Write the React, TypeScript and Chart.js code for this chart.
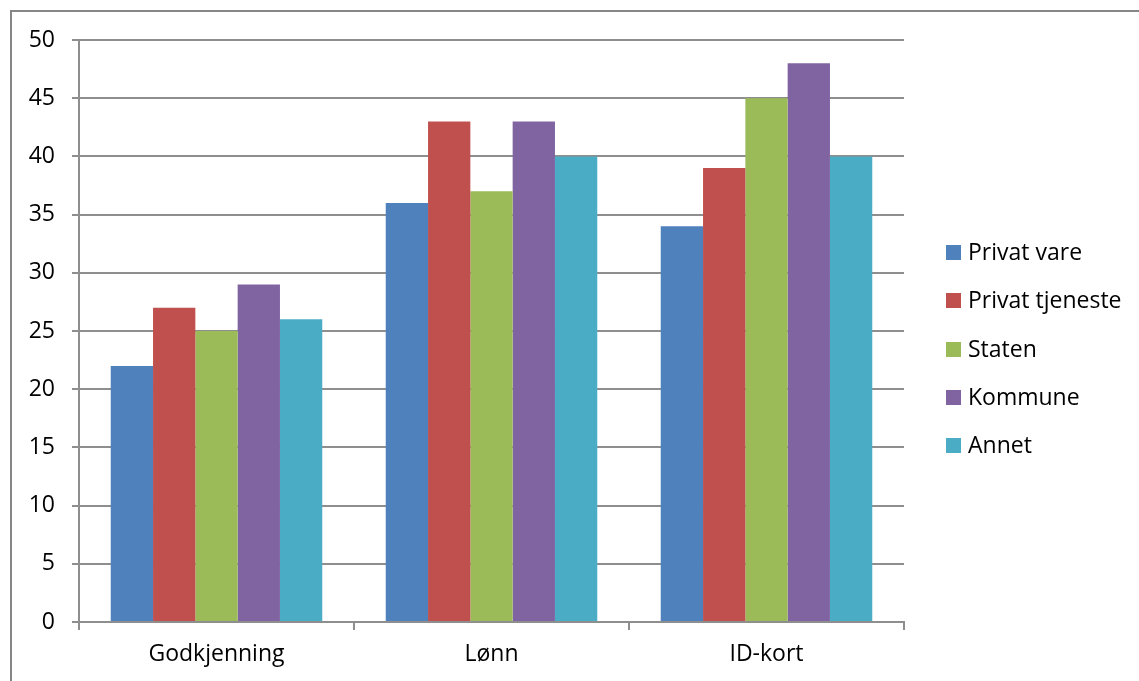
import React, { useEffect, useRef } from "react";
import { Chart, registerables } from "chart.js";

Chart.register(...registerables);

// Categories on the x axis
const categories = ["Godkjenning", "Lønn", "ID-kort"];

// One series per sector
const seriesNames = ["Privat vare", "Privat tjeneste", "Staten", "Kommune", "Annet"];
const privatVare = [22, 36, 34];
const privatTjeneste = [27, 43, 39];
const staten = [25, 37, 45];
const kommune = [29, 43, 48];
const annet = [26, 40, 40];

const seriesColors = ["#4F81BD", "#C0504D", "#9BBB59", "#8064A2", "#4BACC6"];

// Value axis
const yMin = 0;
const yMax = 50;
const yStep = 5;

const FONT_FAMILY = "'Open Sans', 'DejaVu Sans', sans-serif";
const FONT_SIZE = 23;
const AXIS_GRAY = "#8e8e8e";

const WIDTH = 1139;
const HEIGHT = 681;

// Outer frame of the chart
const framePlugin = {
  id: "frame",
  beforeDraw(chart: any) {
    const { ctx } = chart;
    ctx.save();
    ctx.fillStyle = "#ffffff";
    ctx.fillRect(0, 0, chart.width, chart.height);
    ctx.strokeStyle = "#868686";
    ctx.lineWidth = 2;
    ctx.strokeRect(11, 11, chart.width + 20, chart.height + 20);
    ctx.restore();
  },
};

// Vertical legend to the right of the plot
const sideLegendPlugin = {
  id: "sideLegend",
  afterDraw(chart: any) {
    const { ctx } = chart;
    const boxX = 946;
    const box = 15;
    const textX = 968;
    const firstRow = 252.5;
    const rowGap = 48.3;
    ctx.save();
    ctx.font = `${FONT_SIZE}px ${FONT_FAMILY}`;
    ctx.textAlign = "left";
    ctx.textBaseline = "alphabetic";
    chart.data.datasets.forEach((ds: any, i: number) => {
      const cy = firstRow + i * rowGap;
      ctx.fillStyle = ds.backgroundColor;
      ctx.fillRect(boxX, Math.round(cy - box / 2), box, box);
      ctx.fillStyle = "#000000";
      ctx.fillText(ds.label, textX, cy + 7.5);
    });
    ctx.restore();
  },
};

export default function App() {
  const canvasRef = useRef<HTMLCanvasElement | null>(null);

  useEffect(() => {
    if (!canvasRef.current) return;
    const values = [privatVare, privatTjeneste, staten, kommune, annet];
    const chart = new Chart(canvasRef.current, {
      type: "bar",
      data: {
        labels: categories,
        datasets: seriesNames.map((name, i) => ({
          label: name,
          data: values[i],
          backgroundColor: seriesColors[i],
          borderWidth: 0,
          categoryPercentage: 5 / 6.5,
          barPercentage: 1,
        })),
      },
      options: {
        responsive: false,
        animation: false,
        devicePixelRatio: 1,
        layout: { padding: { left: 0, right: WIDTH - 904, top: 40, bottom: 0 } },
        plugins: {
          legend: { display: false },
          tooltip: { enabled: false },
        },
        scales: {
          x: {
            offset: true,
            grid: {
              offset: true,
              drawOnChartArea: false,
              drawTicks: true,
              tickLength: 8,
              color: AXIS_GRAY,
              lineWidth: 2,
            },
            border: { display: true, color: AXIS_GRAY, width: 2 },
            ticks: {
              color: "#000000",
              padding: 11,
              font: { family: FONT_FAMILY, size: FONT_SIZE },
              maxRotation: 0,
            },
            afterFit(scale: any) {
              scale.height = HEIGHT - 622;
            },
          },
          y: {
            min: yMin,
            max: yMax,
            grid: {
              drawTicks: true,
              tickLength: 7,
              color: AXIS_GRAY,
              lineWidth: 2,
            },
            border: { display: true, color: AXIS_GRAY, width: 2 },
            ticks: {
              stepSize: yStep,
              color: "#000000",
              padding: 17,
              font: { family: FONT_FAMILY, size: FONT_SIZE },
            },
            afterFit(scale: any) {
              scale.width = 79;
            },
          },
        },
      },
      plugins: [framePlugin, sideLegendPlugin],
    });
    return () => chart.destroy();
  }, []);

  return (
    <div style={{ position: "absolute", left: 0, top: 0, width: WIDTH, height: HEIGHT, background: "#fff" }}>
      <canvas ref={canvasRef} width={WIDTH} height={HEIGHT} style={{ display: "block", width: WIDTH, height: HEIGHT }} />
    </div>
  );
}
